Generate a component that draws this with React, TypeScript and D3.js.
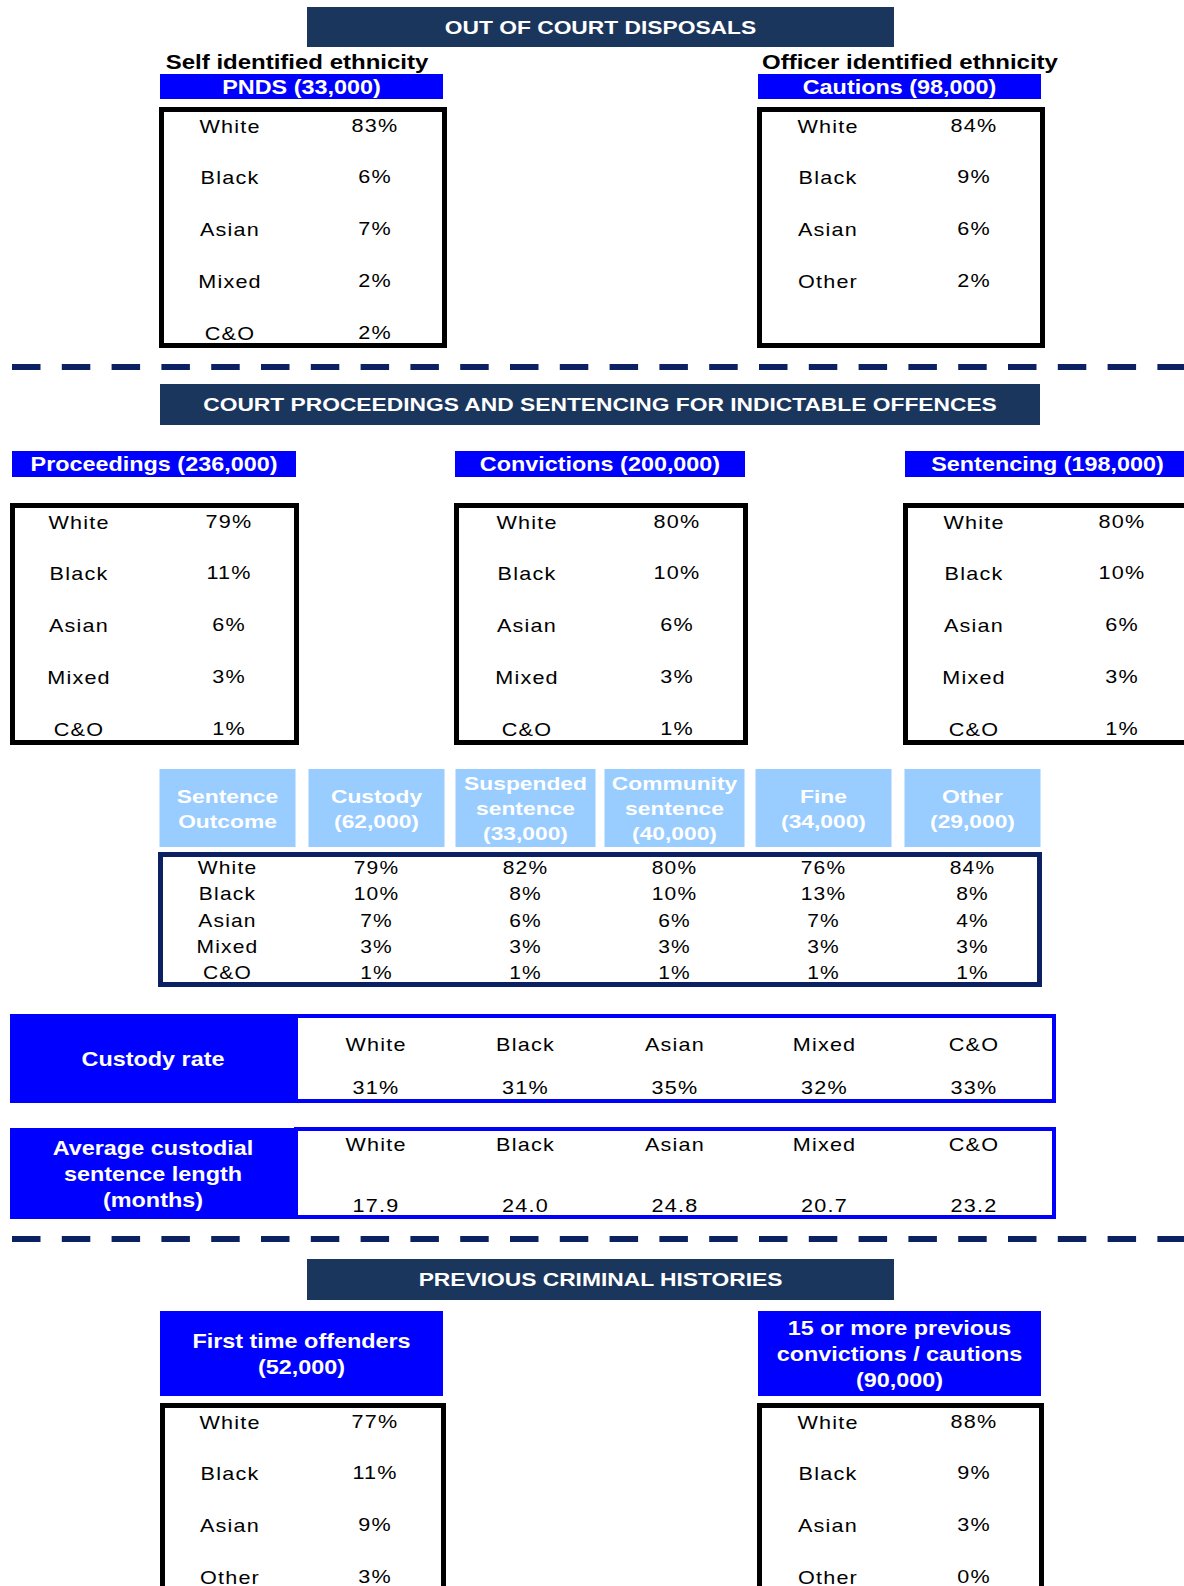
import React from "react";
import * as d3 from "d3";

// ---------- data ----------
const ETHNIC_5 = ["White", "Black", "Asian", "Mixed", "C&O"];
const ETHNIC_4 = ["White", "Black", "Asian", "Other"];
const SECTION_TITLES = [
  "OUT OF COURT DISPOSALS",
  "COURT PROCEEDINGS AND SENTENCING FOR INDICTABLE OFFENCES",
  "PREVIOUS CRIMINAL HISTORIES",
];
const OOCD_SUBTITLES = ["Self identified ethnicity", "Officer identified ethnicity"];
const OOCD_LABELS = ["PNDS (33,000)", "Cautions (98,000)"];
const PNDS_PCT = [83, 6, 7, 2, 2];
const CAUTIONS_PCT = [84, 9, 6, 2];
const COURT_STAGES = ["Proceedings (236,000)", "Convictions (200,000)", "Sentencing (198,000)"];
const PROCEEDINGS_PCT = [79, 11, 6, 3, 1];
const CONVICTIONS_PCT = [80, 10, 6, 3, 1];
const SENTENCING_PCT = [80, 10, 6, 3, 1];
const OUTCOME_HEADERS = [
  ["Sentence", "Outcome"],
  ["Custody", "(62,000)"],
  ["Suspended", "sentence", "(33,000)"],
  ["Community", "sentence", "(40,000)"],
  ["Fine", "(34,000)"],
  ["Other", "(29,000)"],
];
const CUSTODY_PCT = [79, 10, 7, 3, 1];
const SUSPENDED_PCT = [82, 8, 6, 3, 1];
const COMMUNITY_PCT = [80, 10, 6, 3, 1];
const FINE_PCT = [76, 13, 7, 3, 1];
const OTHER_PCT = [84, 8, 4, 3, 1];
const CUSTODY_RATE_LABEL = ["Custody rate"];
const CUSTODY_RATE = [31, 31, 35, 32, 33];
const AVG_SENTENCE_LABEL = ["Average custodial", "sentence length", "(months)"];
const AVG_SENTENCE_MONTHS = [17.9, 24.0, 24.8, 20.7, 23.2];
const HISTORY_LABELS = [
  ["First time offenders", "(52,000)"],
  ["15 or more previous", "convictions / cautions", "(90,000)"],
];
const FIRST_TIME_PCT = [77, 11, 9, 3];
const FIFTEEN_PLUS_PCT = [88, 9, 3, 0];

// ---------- style ----------
const W = 1184;
const H = 1586;
const FONT = "'Liberation Sans', Arial, Helvetica, sans-serif";
const DARK = "#1b365d";
const BLUE = "#0000ff";
const LIGHT = "#99ccff";
const NAVY = "#0b2161";
const pct = (v: number) => `${v}%`;
const one = d3.format(".1f");

function T({ x, y, children, size = 18, bold = false, fill = "#000", sx = 1.2, ls = 0 }: any) {
  return (
    <text
      transform={`translate(${x},${y}) scale(${sx},1)`}
      textAnchor="middle"
      fontFamily={FONT}
      fontSize={size}
      fontWeight={bold ? 700 : 400}
      fill={fill}
      letterSpacing={ls}
    >
      {children}
    </text>
  );
}

function Header({ x0, x1, y0, y1, text }: any) {
  return (
    <g>
      <rect x={x0} y={y0} width={x1 - x0} height={y1 - y0} fill={DARK} />
      <T x={(x0 + x1) / 2} y={y0 + 27} size={19} bold fill="#fff">{text}</T>
    </g>
  );
}

function Label({ x0, x1, y0, y1, lines, fill = BLUE, size = 19.5, lh = 26, sx = 1.2 }: any) {
  const cy = (y0 + y1) / 2;
  const first = cy + 7 - ((lines.length - 1) * lh) / 2;
  return (
    <g>
      <rect x={x0} y={y0} width={x1 - x0} height={y1 - y0} fill={fill} />
      {lines.map((l: string, i: number) => (
        <T key={i} x={(x0 + x1) / 2} y={first + i * lh} size={size} bold fill="#fff" sx={sx}>{l}</T>
      ))}
    </g>
  );
}

function PctBox({ x0, x1, y0, y1, labels, values, yStart, step, labelX, valueX }: any) {
  const y = d3
    .scalePoint<string>()
    .domain(labels)
    .range([yStart, yStart + step * (labels.length - 1)]);
  return (
    <g>
      <rect x={x0 + 2.5} y={y0 + 2.5} width={x1 - x0 - 5} height={y1 - y0 - 5} fill="#fff" stroke="#000" strokeWidth={5} />
      {labels.map((l: string, i: number) => (
        <g key={l}>
          <T x={labelX} y={y(l)} ls={1}>{l}</T>
          <T x={valueX} y={(y(l) as number) - 1} ls={1}>{pct(values[i])}</T>
        </g>
      ))}
    </g>
  );
}

function Dashes({ y }: any) {
  return <line x1={12} x2={W} y1={y} y2={y} stroke={NAVY} strokeWidth={6} strokeDasharray="28.5 21.3" />;
}

export default function App() {
  // Sentence outcome table
  const outcomeKeys = OUTCOME_HEADERS.map((h) => h[0]);
  const outcomeX = d3.scalePoint<string>().domain(outcomeKeys).range([227.5, 972.5]);
  const outcomeRowY = d3.scalePoint<string>().domain(ETHNIC_5).range([874, 979]);
  const outcomeValues = [CUSTODY_PCT, SUSPENDED_PCT, COMMUNITY_PCT, FINE_PCT, OTHER_PCT];

  // Custody rate / average sentence columns
  const rateX = d3.scalePoint<string>().domain(ETHNIC_5).range([376, 974]);

  return (
    <svg
      width={W}
      height={H}
      viewBox={`0 0 ${W} ${H}`}
      style={{ position: "absolute", left: 0, top: 0, display: "block", background: "#fff" }}
    >
      <rect x={0} y={0} width={W} height={H} fill="#fff" />

      {/* ---- Section 1 ---- */}
      <Header x0={307} x1={894} y0={7} y1={47} text={SECTION_TITLES[0]} />
      <T x={297} y={69} size={20} bold>{OOCD_SUBTITLES[0]}</T>
      <T x={910} y={69} size={20} bold>{OOCD_SUBTITLES[1]}</T>
      <Label x0={160} x1={443} y0={74} y1={99} lines={[OOCD_LABELS[0]]} />
      <Label x0={758} x1={1041} y0={74} y1={99} lines={[OOCD_LABELS[1]]} />
      <PctBox x0={159} x1={447} y0={107} y1={348} labels={ETHNIC_5} values={PNDS_PCT}
        yStart={132.5} step={51.9} labelX={230} valueX={375} />
      <PctBox x0={757} x1={1045} y0={107} y1={348} labels={ETHNIC_4} values={CAUTIONS_PCT}
        yStart={132.5} step={51.9} labelX={828} valueX={974} />

      <Dashes y={367} />

      {/* ---- Section 2 ---- */}
      <Header x0={160} x1={1040} y0={384} y1={425} text={SECTION_TITLES[1]} />
      <Label x0={12} x1={296} y0={451} y1={477} lines={[COURT_STAGES[0]]} />
      <Label x0={455} x1={745} y0={451} y1={477} lines={[COURT_STAGES[1]]} />
      <Label x0={905} x1={1190} y0={451} y1={477} lines={[COURT_STAGES[2]]} />
      <PctBox x0={10} x1={299} y0={503} y1={745} labels={ETHNIC_5} values={PROCEEDINGS_PCT}
        yStart={528.5} step={51.9} labelX={79} valueX={229} />
      <PctBox x0={454} x1={748} y0={503} y1={745} labels={ETHNIC_5} values={CONVICTIONS_PCT}
        yStart={528.5} step={51.9} labelX={527} valueX={677} />
      <PctBox x0={903} x1={1200} y0={503} y1={745} labels={ETHNIC_5} values={SENTENCING_PCT}
        yStart={528.5} step={51.9} labelX={974} valueX={1122} />

      {/* sentence outcome headers */}
      {OUTCOME_HEADERS.map((lines) => {
        const cx = outcomeX(lines[0]) as number;
        const w = lines.length === 3 ? 140 : 136;
        return (
          <Label key={lines[0]} x0={cx - w / 2} x1={cx + w / 2} y0={769} y1={847}
            lines={lines} fill={LIGHT} size={19} lh={25} />
        );
      })}
      <rect x={160.5} y={854.5} width={879} height={130} fill="#fff" stroke={NAVY} strokeWidth={5} />
      {ETHNIC_5.map((e, r) => (
        <g key={e}>
          <T x={outcomeX(outcomeKeys[0])} y={outcomeRowY(e)} size={17.5} ls={1}>{e}</T>
          {outcomeValues.map((vals, c) => (
            <T key={c} x={outcomeX(outcomeKeys[c + 1])} y={outcomeRowY(e)} size={17.5} ls={1}>
              {pct(vals[r])}
            </T>
          ))}
        </g>
      ))}

      {/* custody rate */}
      <rect x={296} y={1016} width={758} height={85} fill="#fff" stroke={BLUE} strokeWidth={4} />
      <Label x0={10} x1={296} y0={1014} y1={1103} lines={CUSTODY_RATE_LABEL} />
      {ETHNIC_5.map((e, i) => (
        <g key={e}>
          <T x={rateX(e)} y={1050.5} ls={1}>{e}</T>
          <T x={rateX(e)} y={1094} ls={1}>{pct(CUSTODY_RATE[i])}</T>
        </g>
      ))}

      {/* average custodial sentence length */}
      <rect x={296} y={1129} width={758} height={88} fill="#fff" stroke={BLUE} strokeWidth={4} />
      <Label x0={10} x1={296} y0={1128} y1={1219} lines={AVG_SENTENCE_LABEL} />
      {ETHNIC_5.map((e, i) => (
        <g key={e}>
          <T x={rateX(e)} y={1150.5} ls={1}>{e}</T>
          <T x={rateX(e)} y={1211.5} ls={1}>{one(AVG_SENTENCE_MONTHS[i])}</T>
        </g>
      ))}

      <Dashes y={1239} />

      {/* ---- Section 3 ---- */}
      <Header x0={307} x1={894} y0={1259} y1={1300} text={SECTION_TITLES[2]} />
      <Label x0={160} x1={443} y0={1311} y1={1396} lines={HISTORY_LABELS[0]} />
      <Label x0={758} x1={1041} y0={1311} y1={1396} lines={HISTORY_LABELS[1]} />
      <PctBox x0={160} x1={446} y0={1403} y1={1620} labels={ETHNIC_4} values={FIRST_TIME_PCT}
        yStart={1428.5} step={51.9} labelX={230} valueX={375} />
      <PctBox x0={757} x1={1044} y0={1403} y1={1620} labels={ETHNIC_4} values={FIFTEEN_PLUS_PCT}
        yStart={1428.5} step={51.9} labelX={828} valueX={974} />
    </svg>
  );
}
